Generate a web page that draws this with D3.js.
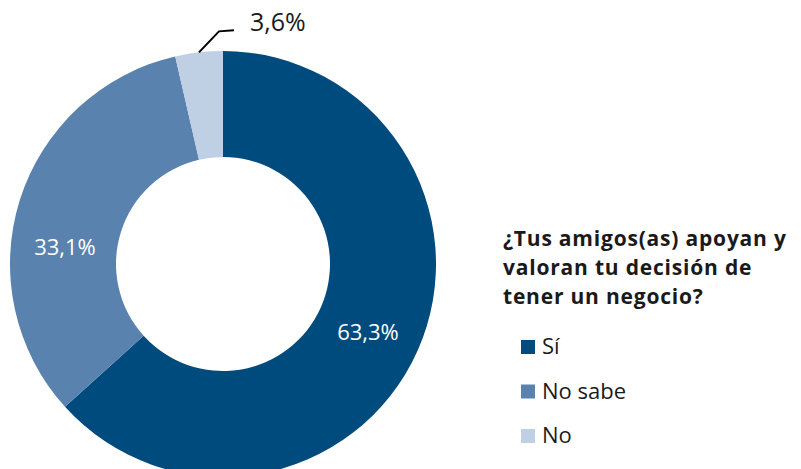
<!DOCTYPE html>
<html>
<head>
<meta charset="utf-8">
<script src="https://cdn.jsdelivr.net/npm/d3@7"></script>
<style>
  body { margin: 0; background: #fff; }
  svg { display: block; font-family: "Open Sans", "Noto Sans", sans-serif; }
</style>
</head>
<body>
<svg id="chart" width="801" height="469"></svg>
<script>
// Chart data
const categories = ['Sí', 'No sabe', 'No'];
const values = [63.3, 33.1, 3.6];
const valueLabels = ['63,3%', '33,1%', '3,6%'];
const colors = ['#004B7E', '#5A82AE', '#BFD0E5'];
const titleLines = ['¿Tus amigos(as) apoyan y', 'valoran tu decisión de', 'tener un negocio?'];

const svg = d3.select('#chart');

const cx = 223, cy = 264;
const outerR = 213, innerR = 107;

const pie = d3.pie().sort(null).value(d => d)(values);
const arc = d3.arc().innerRadius(innerR).outerRadius(outerR);

const g = svg.append('g').attr('transform', `translate(${cx},${cy})`);

// Slices
g.selectAll('path.slice')
    .data(pie)
    .enter()
    .append('path')
    .attr('class', 'slice')
    .attr('d', arc)
    .attr('fill', (d, i) => colors[i]);

// Labels inside the two big slices (placed where the reference puts them)
const labelSpots = [[145, 76], [-158, -9]];
labelSpots.forEach((p, i) => {
    g.append('text')
        .attr('x', p[0])
        .attr('y', p[1])
        .attr('text-anchor', 'middle')
        .attr('fill', '#fff')
        .attr('font-size', 22)
        .text(valueLabels[i]);
});

// Small slice label with leader line
const small = pie[2];
const midA = (small.startAngle + small.endAngle) / 2;
const p0 = [Math.sin(midA) * outerR, -Math.cos(midA) * outerR];
const p1 = [p0[0] + 20, p0[1] - 21];
const p2 = [p1[0] + 15, p1[1] - 1];
g.append('polyline')
    .attr('points', [p0, p1, p2].map(p => p.join(',')).join(' '))
    .attr('fill', 'none')
    .attr('stroke', '#000')
    .attr('stroke-width', 2);
g.append('text')
    .attr('x', p2[0] + 16)
    .attr('y', p2[1] + 1)
    .attr('fill', '#1a1a1a')
    .attr('font-size', 25)
    .text(valueLabels[2]);

// Title
svg.append('g')
    .selectAll('text')
    .data(titleLines)
    .enter()
    .append('text')
    .attr('x', 503)
    .attr('y', (d, i) => 246 + i * 29)
    .attr('font-size', 21)
    .attr('font-weight', 'bold')
    .attr('letter-spacing', 0.8)
    .attr('fill', '#1a1a1a')
    .text(d => d);

// Legend
const legend = svg.append('g').attr('transform', 'translate(521,340)');
const item = legend.selectAll('g')
    .data(categories)
    .enter()
    .append('g')
    .attr('transform', (d, i) => `translate(0,${i * 44.5})`);
item.append('rect')
    .attr('width', 14)
    .attr('height', 14)
    .attr('fill', (d, i) => colors[i]);
item.append('text')
    .attr('x', 21)
    .attr('y', 14)
    .attr('font-size', 22)
    .attr('fill', '#1a1a1a')
    .text(d => d);
</script>
</body>
</html>
